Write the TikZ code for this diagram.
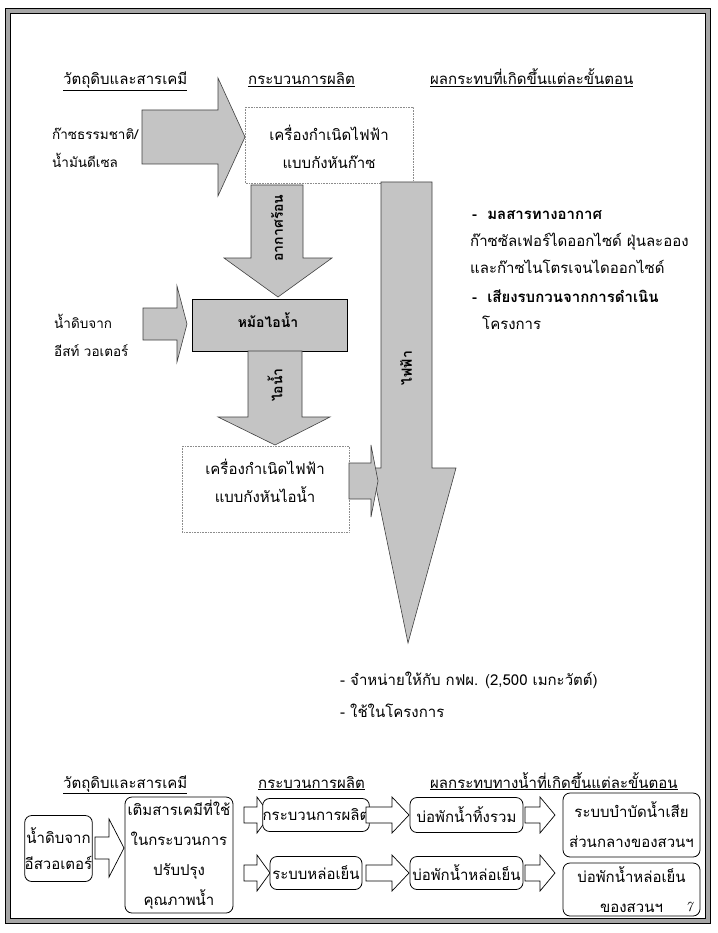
\documentclass[tikz,border=0pt]{standalone}
\usepackage{fontspec}
\newfontfamily\thai[Script=Thai]{Loma}
\newcommand\RArr[7]{\draw[#1] (#2,#5-#6) -- (#3,#5-#6) -- (#3,#5-#7) -- (#4,#5) -- (#3,#5+#7) -- (#3,#5+#6) -- (#2,#5+#6) -- cycle;}
\begin{document}
\begin{tikzpicture}[x=1pt,y=-1pt,
  txt/.style={font=\thai\fontsize{15}{18}\selectfont, inner sep=0pt},
  lt/.style={txt, anchor=base west},
  st/.style={lt, font=\thai\fontsize{13.5}{16}\selectfont},
  ct/.style={txt, anchor=base},
  garrow/.style={fill=black!23, draw=black!75, line width=0.6pt},
  warrow/.style={fill=white, draw=black, line width=0.7pt},
  dbox/.style={draw=black!45, densely dotted, line width=0.6pt},
  rbox/.style={draw=black, line width=0.8pt, rounded corners=7pt, fill=white, inner sep=0pt, align=center, font=\thai\fontsize{15}{30}\selectfont}]
\useasboundingbox (0,0) rectangle (717,933);
\fill[white] (0,0) rectangle (717,933);
% frame
\draw[line width=4pt, black!35] (8,11) rectangle (708,921);
\draw[line width=0.9pt] (5.5,8.5) rectangle (710.5,923.5);
\draw[line width=0.9pt] (10.5,13.5) rectangle (705.5,918.5);
% ---------- top section ----------
\node[lt] (h1) at (63,85) {\underline{วัตถุดิบและสารเคมี}};
\node[lt] (h2) at (248,85) {\underline{กระบวนการผลิต}};
\node[lt] (h3) at (430,85) {\underline{ผลกระทบที่เกิดขึ้นแต่ละขั้นตอน}};
% big arrow gas -> GT
\RArr{garrow}{142}{218}{245}{137}{27}{59}
\node[st] (gas1) at (52,140) {ก๊าซธรรมชาติ/};
\node[st] (gas2) at (52,168) {น้ำมันดีเซล};
\node[st] (raw1) at (54,328) {น้ำดิบจาก};
\node[st] (raw2) at (54,356) {อีสท์ วอเตอร์};
% GT box
\draw[dbox] (245,107) rectangle (413,183);
\node[ct] (gt1) at (329,141) {เครื่องกำเนิดไฟฟ้า};
\node[ct] (gt2) at (329,169) {แบบกังหันก๊าซ};
% hot air arrow
\draw[garrow] (251,185) -- (303,185) -- (303,258) -- (332,258) -- (278,297) -- (224,258) -- (251,258) -- cycle;
\node[txt, rotate=90, font=\thai\bfseries\fontsize{14}{16}\selectfont] (hot) at (277,228) {อากาศร้อน};
% boiler
\draw[garrow, draw=black] (192,299) rectangle (347,351);
\node[txt, font=\thai\bfseries\fontsize{14}{16}\selectfont] (boil) at (268,320) {หม้อไอน้ำ};
% water arrow into boiler
\RArr{garrow}{143}{177}{187}{324}{16}{38}
% steam arrow
\draw[garrow] (248,351) -- (302,351) -- (302,417) -- (330,417) -- (275,445) -- (218,417) -- (248,417) -- cycle;
\node[txt, rotate=90, font=\thai\bfseries\fontsize{14}{16}\selectfont] (steam) at (275,385) {ไอน้ำ};
% ST box
\draw[dbox] (182,446) rectangle (349,532);
\node[ct] (st1) at (265,474) {เครื่องกำเนิดไฟฟ้า};
\node[ct] (st2) at (265,502) {แบบกังหันไอน้ำ};
% electricity arrow
\draw[garrow] (381,182) -- (432,182) -- (432,468) -- (456,468) -- (408,643) -- (372,468) -- (381,468) -- cycle;
\node[txt, rotate=90, font=\thai\bfseries\fontsize{14}{16}\selectfont] (elec) at (406,368) {ไฟฟ้า};
% small arrow ST -> elec
\RArr{garrow}{349}{371}{378}{481}{18}{36}
% impacts
\node[lt, font=\thai\bfseries\fontsize{15}{18}\selectfont] (im1) at (472,219) {-\ \ มลสารทางอากาศ};
\node[lt] (im2) at (470,246) {ก๊าซซัลเฟอร์ไดออกไซด์ ฝุ่นละออง};
\node[lt] (im3) at (470,273) {และก๊าซไนโตรเจนไดออกไซด์};
\node[lt, font=\thai\bfseries\fontsize{15}{18}\selectfont] (im4) at (472,302) {-\ \ เสียงรบกวนจากการดำเนิน};
\node[lt] (im5) at (482,329) {โครงการ};
\node[lt] (out1) at (340,685) {- จำหน่ายให้กับ กฟผ. (2,500 เมกะวัตต์)};
\node[lt] (out2) at (340,717) {- ใช้ในโครงการ};
% ---------- bottom section ----------
\node[lt] (bh1) at (63,788) {\underline{วัตถุดิบและสารเคมี}};
\node[lt] (bh2) at (258,788) {\underline{กระบวนการผลิต}};
\node[lt] (bh3) at (430,788) {\underline{ผลกระทบทางน้ำที่เกิดขึ้นแต่ละขั้นตอน}};
\node[rbox, minimum width=67pt, minimum height=66pt] (braw) at (58.5,848.5) {น้ำดิบจาก\\[-4pt]อีสวอเตอร์};
\RArr{warrow}{95}{109}{124}{848}{11}{29}
\node[rbox, minimum width=108pt, minimum height=116pt] (chem) at (179,855) {เติมสารเคมีที่ใช้\\ในกระบวนการ\\ปรับปรุง\\คุณภาพน้ำ};
\RArr{warrow}{244}{257}{270}{815}{8}{18}
\RArr{warrow}{244}{257}{270}{873}{8}{18}
\node[rbox, minimum width=92pt, minimum height=33pt] (proc) at (316,815) {กระบวนการผลิต};
\node[rbox, minimum width=92pt, minimum height=33pt] (cool) at (316,873) {ระบบหล่อเย็น};
\RArr{warrow}{366}{392}{409}{815}{8}{18}
\RArr{warrow}{366}{392}{409}{873}{8}{18}
\node[rbox, minimum width=113pt, minimum height=35pt] (pond1) at (466.5,815) {บ่อพักน้ำทิ้งรวม};
\node[rbox, minimum width=113pt, minimum height=33pt] (pond2) at (466.5,873) {บ่อพักน้ำหล่อเย็น};
\RArr{warrow}{525}{540}{555}{815}{8}{18}
\RArr{warrow}{525}{540}{555}{873}{8}{18}
\node[rbox, minimum width=137pt, minimum height=64pt] (wwt) at (631.5,825) {ระบบบำบัดน้ำเสีย\\ส่วนกลางของสวนฯ};
\node[rbox, minimum width=137pt, minimum height=53pt] (cpond) at (631.5,889.5) {บ่อพักน้ำหล่อเย็น\\ของสวนฯ};
\node[font=\itshape\fontsize{14}{15}\selectfont, inner sep=0pt] (pg) at (689,907) {7};
\end{tikzpicture}
\end{document}
